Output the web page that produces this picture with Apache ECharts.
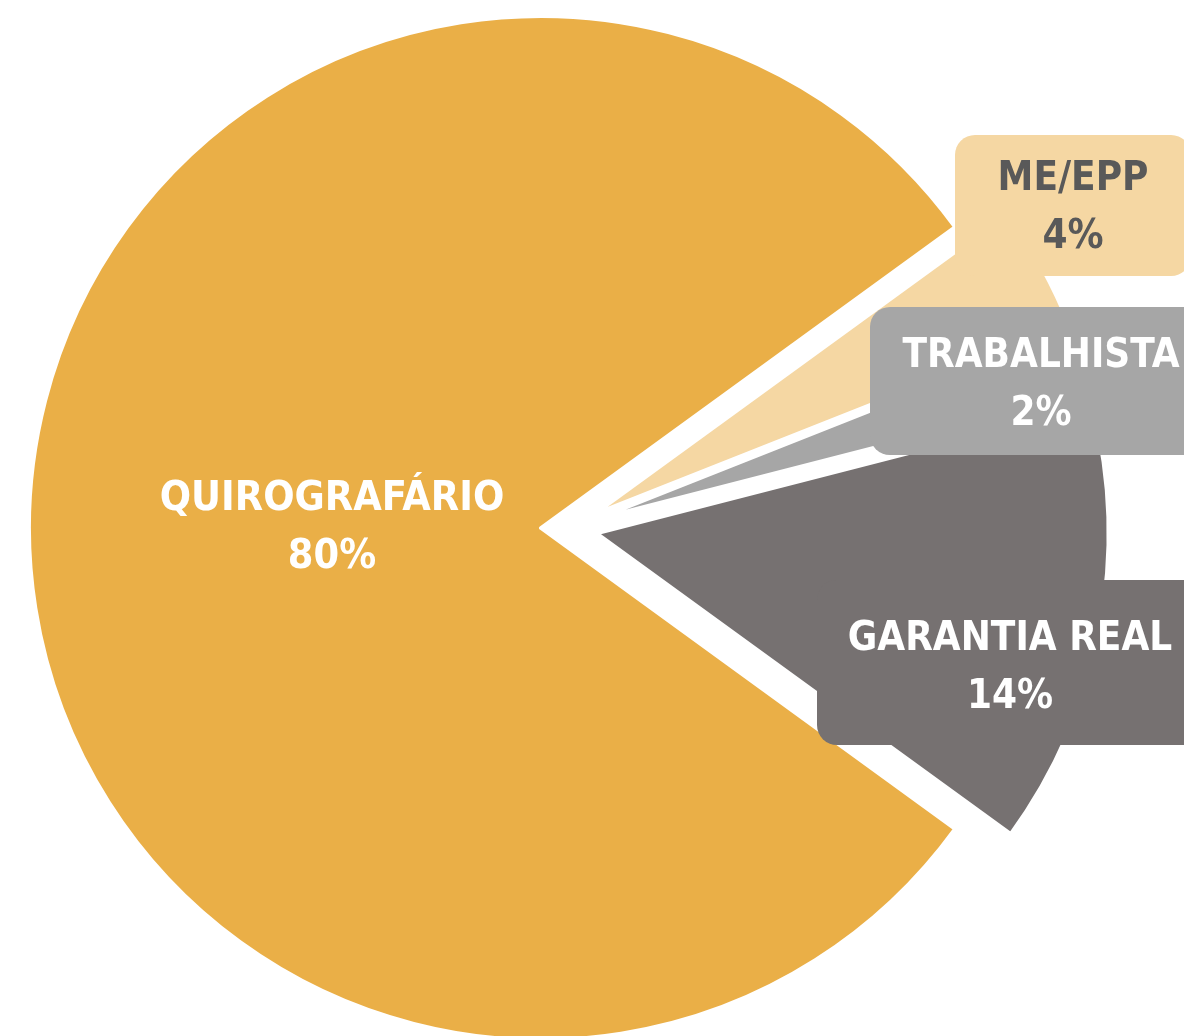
<!DOCTYPE html>
<html>
<head>
<meta charset="utf-8">
<script src="https://cdn.jsdelivr.net/npm/echarts@6/dist/echarts.min.js"></script>
<style>
  html, body { margin: 0; padding: 0; background: #fff; }
  #chart { width: 1184px; height: 1036px; }
</style>
</head>
<body>
<div id="chart"></div>
<script>
// dados do gráfico
const categories = ['QUIROGRAFÁRIO', 'ME/EPP', 'TRABALHISTA', 'GARANTIA REAL']
const shares = [80, 4, 2, 14]
const colors = ['#EAAF47', '#F5D7A3', '#A6A6A6', '#767171']

const fontFamily = '"Liberation Sans Narrow", "DejaVu Sans Condensed", sans-serif'

// estilo de cada rótulo
const labelStyles = [
  { color: '#fff', fontSize: 41, lineHeight: 58 },
  { color: '#595959', backgroundColor: '#F5D7A3', width: 200, padding: [16, 18, 9, 18], borderRadius: 20 },
  { color: '#fff', backgroundColor: '#A6A6A6', width: 306, padding: [21, 18, 11, 18], borderRadius: 20 },
  { color: '#fff', backgroundColor: '#767171', width: 350, padding: [31, 18, 18, 18], borderRadius: 20 }
]
// posição dos rótulos (caixas cortadas na borda direita)
const labelSpots = [
  { x: 332, y: 528, verticalAlign: 'middle' },
  { x: 1073, y: 135, verticalAlign: 'top' },
  { x: 1041, y: 307, verticalAlign: 'top' },
  { x: 1010, y: 580, verticalAlign: 'top' }
]

const pieCenter = [569, 528]
const pieRadius = 512
const startAngle = -36
const explode = 28

const chart = echarts.init(document.getElementById('chart'))

// uma série por fatia, cada uma deslocada na direção do seu ângulo médio
const total = shares.reduce((a, b) => a + b, 0)
let acc = 0
const series = categories.map((name, k) => {
  const mid = startAngle - (acc + shares[k] / 2) / total * 360
  acc += shares[k]
  const rad = mid * Math.PI / 180
  return {
    type: 'pie',
    center: [pieCenter[0] + explode * Math.cos(rad), pieCenter[1] - explode * Math.sin(rad)],
    radius: pieRadius,
    startAngle: startAngle,
    clockwise: true,
    avoidLabelOverlap: false,
    emphasis: { disabled: true },
    labelLine: { show: false },
    labelLayout: function (params) {
      const s = labelSpots[params.dataIndex]
      return { x: s.x, y: s.y, align: 'center', verticalAlign: s.verticalAlign }
    },
    data: categories.map((n, i) => ({
      name: n,
      value: shares[i],
      itemStyle: i === k
        ? { color: colors[i], borderColor: '#fff', borderWidth: 4 }
        : { color: 'rgba(0,0,0,0)', borderWidth: 0 },
      label: i === k
        ? Object.assign({
            show: true,
            position: 'inside',
            formatter: '{b}\n{c}%',
            fontFamily: fontFamily,
            fontWeight: 'bold',
            fontSize: 40,
            lineHeight: 58,
            align: 'center'
          }, labelStyles[i])
        : { show: false }
    }))
  }
})

chart.setOption({
  animation: false,
  backgroundColor: '#fff',
  series: series
})
</script>
</body>
</html>
